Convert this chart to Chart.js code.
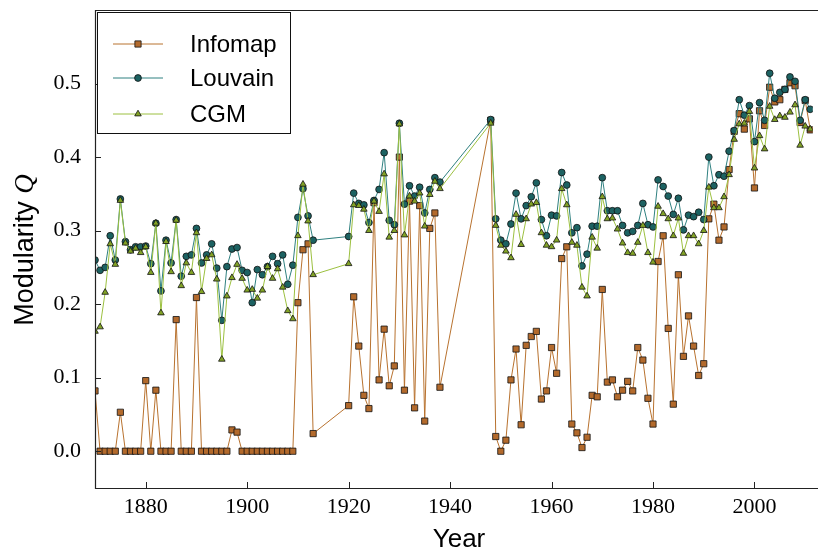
<!DOCTYPE html>
<html>
<head>
<meta charset="utf-8">
<script src="https://cdn.jsdelivr.net/npm/chart.js@4.4.1/dist/chart.umd.min.js"></script>
<style>
  html, body { margin: 0; padding: 0; background: #fff; }
  #wrap { width: 818px; height: 550px; }
</style>
</head>
<body>
<div id="wrap"><canvas id="modularidad" width="818" height="550"></canvas></div>
<script>
// Años (con huecos en las guerras)
const anios = [
  1870, 1871, 1872, 1873, 1874, 1875, 1876, 1877, 1878, 1879,
  1880, 1881, 1882, 1883, 1884, 1885, 1886, 1887, 1888, 1889,
  1890, 1891, 1892, 1893, 1894, 1895, 1896, 1897, 1898, 1899,
  1900, 1901, 1902, 1903, 1904, 1905, 1906, 1907, 1908, 1909,
  1910, 1911, 1912, 1913,
  1920, 1921, 1922, 1923, 1924, 1925, 1926, 1927, 1928, 1929,
  1930, 1931, 1932, 1933, 1934, 1935, 1936, 1937, 1938,
  1948, 1949, 1950, 1951, 1952, 1953, 1954, 1955, 1956, 1957, 1958, 1959,
  1960, 1961, 1962, 1963, 1964, 1965, 1966, 1967, 1968, 1969,
  1970, 1971, 1972, 1973, 1974, 1975, 1976, 1977, 1978, 1979,
  1980, 1981, 1982, 1983, 1984, 1985, 1986, 1987, 1988, 1989,
  1990, 1991, 1992, 1993, 1994, 1995, 1996, 1997, 1998, 1999,
  2000, 2001, 2002, 2003, 2004, 2005, 2006, 2007, 2008, 2009,
  2010, 2011
];

const infomap = [
  0.082, 0, 0, 0, 0, 0.053, 0, 0, 0, 0,
  0.096, 0, 0.083, 0, 0, 0, 0.179, 0, 0, 0,
  0.209, 0, 0, 0, 0, 0, 0, 0.029, 0.026, 0,
  0, 0, 0, 0, 0, 0, 0, 0, 0, 0,
  0.202, 0.274, 0.282, 0.024,
  0.062, 0.210, 0.143, 0.076, 0.058, 0.338, 0.097, 0.166, 0.089, 0.116,
  0.400, 0.083, 0.340, 0.059, 0.334, 0.041, 0.303, 0.324, 0.087,
  0.450, 0.020, 0.000, 0.015, 0.097, 0.139, 0.036, 0.144, 0.156, 0.163, 0.071, 0.082,
  0.141, 0.106, 0.262, 0.278, 0.037, 0.025, 0.005, 0.019, 0.076, 0.074,
  0.220, 0.094, 0.097, 0.074, 0.083, 0.095, 0.082, 0.141, 0.124, 0.072,
  0.037, 0.258, 0.293, 0.167, 0.064, 0.240, 0.129, 0.184, 0.143, 0.103,
  0.119, 0.316, 0.336, 0.287, 0.305, 0.383, 0.435, 0.459, 0.438, 0.452,
  0.358, 0.463, 0.443, 0.495, 0.475, 0.478, 0.492, 0.501, 0.497, 0.447,
  0.477, 0.437
];

const louvain = [
  0.260, 0.246, 0.250, 0.293, 0.260, 0.343, 0.285, 0.274, 0.278, 0.278,
  0.279, 0.255, 0.310, 0.218, 0.287, 0.256, 0.315, 0.238, 0.265, 0.267,
  0.303, 0.256, 0.267, 0.282, 0.249, 0.178, 0.251, 0.275, 0.277, 0.246,
  0.243, 0.202, 0.247, 0.240, 0.251, 0.265, 0.255, 0.267, 0.227, 0.253,
  0.318, 0.357, 0.320, 0.287,
  0.292, 0.351, 0.337, 0.335, 0.311, 0.341, 0.356, 0.406, 0.314, 0.308,
  0.446, 0.336, 0.361, 0.347, 0.359, 0.324, 0.356, 0.372, 0.366,
  0.451, 0.316, 0.287, 0.282, 0.309, 0.351, 0.316, 0.334, 0.346, 0.365, 0.315, 0.293,
  0.321, 0.320, 0.379, 0.362, 0.297, 0.304, 0.252, 0.268, 0.306, 0.306,
  0.372, 0.327, 0.327, 0.327, 0.307, 0.297, 0.299, 0.307, 0.337, 0.308,
  0.305, 0.369, 0.360, 0.347, 0.322, 0.344, 0.301, 0.321, 0.319, 0.325,
  0.315, 0.400, 0.361, 0.376, 0.374, 0.408, 0.436, 0.478, 0.457, 0.470,
  0.421, 0.474, 0.450, 0.514, 0.480, 0.488, 0.492, 0.509, 0.503, 0.450,
  0.478, 0.465
];

const cgm = [
  0.163, 0.169, 0.216, 0.282, 0.254, 0.341, 0.283, 0.272, 0.276, 0.270,
  0.278, 0.243, 0.310, 0.188, 0.285, 0.244, 0.314, 0.225, 0.256, 0.243,
  0.297, 0.217, 0.262, 0.267, 0.234, 0.125, 0.211, 0.236, 0.254, 0.235,
  0.219, 0.220, 0.208, 0.219, 0.251, 0.235, 0.248, 0.223, 0.191, 0.180,
  0.293, 0.363, 0.313, 0.240,
  0.255, 0.335, 0.334, 0.329, 0.300, 0.340, 0.326, 0.377, 0.291, 0.300,
  0.445, 0.294, 0.347, 0.340, 0.351, 0.306, 0.349, 0.367, 0.357,
  0.446, 0.307, 0.280, 0.272, 0.263, 0.322, 0.281, 0.316, 0.336, 0.338, 0.297, 0.280,
  0.278, 0.287, 0.357, 0.335, 0.284, 0.280, 0.223, 0.211, 0.291, 0.276,
  0.346, 0.316, 0.317, 0.302, 0.283, 0.270, 0.269, 0.284, 0.307, 0.270,
  0.257, 0.333, 0.323, 0.316, 0.293, 0.317, 0.269, 0.293, 0.293, 0.282,
  0.300, 0.359, 0.331, 0.331, 0.346, 0.376, 0.424, 0.445, 0.446, 0.462,
  0.385, 0.429, 0.411, 0.469, 0.451, 0.456, 0.454, 0.461, 0.471, 0.416,
  0.442, 0.438
];

const ticksAnio = [1880, 1900, 1920, 1940, 1960, 1980, 2000];
const ticksQ = [0.0, 0.1, 0.2, 0.3, 0.4, 0.5];

const series = [
  { label: 'Infomap', data: infomap, line: '#b8722f', fill: '#b36a2c', shape: 'rect', r: 4.4, order: 3 },
  { label: 'Louvain', data: louvain, line: '#2f8080', fill: '#1c6262', shape: 'circle', r: 3.4, order: 2 },
  { label: 'CGM', data: cgm, line: '#9cc040', fill: '#82a326', shape: 'triangle', r: 3.8, order: 1 }
];

const fuenteSerif = '"Liberation Serif", "Times New Roman", serif';
const fuenteSans = '"Liberation Sans", Arial, sans-serif';

// marco, marcas hacia dentro, titulos de ejes y leyenda
const extras = {
  id: 'extras',
  afterDatasetsDraw(chart) {
    const { ctx, chartArea: a, scales } = chart;
    ctx.save();
    ctx.strokeStyle = '#222';
    ctx.lineWidth = 1.2;
    ctx.beginPath();
    ctx.moveTo(818, a.top + 0.5);
    ctx.lineTo(a.left + 0.5, a.top + 0.5);
    ctx.lineTo(a.left + 0.5, a.bottom + 0.5);
    ctx.lineTo(818, a.bottom + 0.5);
    ctx.stroke();

    ctx.lineWidth = 1;
    ctx.beginPath();
    scales.x.ticks.forEach(t => {
      const px = Math.round(scales.x.getPixelForValue(t.value)) + 0.5;
      ctx.moveTo(px, a.bottom);
      ctx.lineTo(px, a.bottom - 6);
    });
    scales.y.ticks.forEach(t => {
      const py = Math.round(scales.y.getPixelForValue(t.value)) + 0.5;
      ctx.moveTo(a.left, py);
      ctx.lineTo(a.left + 6, py);
    });
    ctx.stroke();

    // titulos
    ctx.fillStyle = '#000';
    ctx.textBaseline = 'alphabetic';
    ctx.font = '26px ' + fuenteSans;
    ctx.textAlign = 'center';
    ctx.fillText('Year', 459, 547);

    ctx.save();
    ctx.translate(33, 250);
    ctx.rotate(-Math.PI / 2);
    ctx.textAlign = 'left';
    const t1 = 'Modularity ';
    ctx.font = '27px ' + fuenteSans;
    const w1 = ctx.measureText(t1).width;
    ctx.font = 'italic 27px ' + fuenteSerif;
    const w2 = ctx.measureText('Q').width;
    const x0 = -(w1 + w2) / 2;
    ctx.font = '27px ' + fuenteSans;
    ctx.fillText(t1, x0, 0);
    ctx.font = 'italic 27px ' + fuenteSerif;
    ctx.fillText('Q', x0 + w1, 0);
    ctx.restore();

    // leyenda
    ctx.fillStyle = '#fff';
    ctx.fillRect(97.5, 12.5, 193, 121);
    ctx.strokeStyle = '#111';
    ctx.lineWidth = 1;
    ctx.strokeRect(97.5, 12.5, 193, 121);
    const filas = [44, 78, 114];
    series.forEach((s, i) => {
      const yy = filas[i];
      ctx.strokeStyle = s.line;
      ctx.lineWidth = 1;
      ctx.beginPath();
      ctx.moveTo(113, yy);
      ctx.lineTo(163, yy);
      ctx.stroke();
      ctx.fillStyle = s.fill;
      ctx.strokeStyle = '#111';
      ctx.lineWidth = 0.8;
      ctx.beginPath();
      if (s.shape === 'rect') {
        const h = s.r * Math.SQRT1_2;
        ctx.rect(138 - h, yy - h, 2 * h, 2 * h);
      } else if (s.shape === 'circle') {
        ctx.arc(138, yy, s.r, 0, Math.PI * 2);
      } else {
        ctx.moveTo(138, yy - s.r);
        ctx.lineTo(138 + s.r * Math.sin(2 * Math.PI / 3), yy - s.r * Math.cos(2 * Math.PI / 3));
        ctx.lineTo(138 + s.r * Math.sin(4 * Math.PI / 3), yy - s.r * Math.cos(4 * Math.PI / 3));
        ctx.closePath();
      }
      ctx.fill();
      ctx.stroke();
      ctx.fillStyle = '#000';
      ctx.font = '24px ' + fuenteSans;
      ctx.textAlign = 'left';
      ctx.textBaseline = 'middle';
      ctx.fillText(s.label, 190, yy + 1);
    });
    ctx.restore();
  }
};

const ctx1 = document.getElementById('modularidad').getContext('2d');
const modularidadChart = new Chart(ctx1, {
  type: 'line',
  data: {
    datasets: series.map(s => ({
      label: s.label,
      data: anios.map((a, i) => ({ x: a, y: s.data[i] })),
      borderColor: s.line,
      borderWidth: 1,
      backgroundColor: s.fill,
      pointStyle: s.shape,
      pointRadius: s.r,
      pointBorderColor: '#111',
      pointBorderWidth: 0.8,
      pointBackgroundColor: s.fill,
      tension: 0,
      fill: false,
      clip: 0,
      order: s.order
    }))
  },
  options: {
    responsive: false,
    animation: false,
    devicePixelRatio: 1,
    layout: { padding: { top: 10, right: 0, bottom: 0, left: 0 } },
    plugins: { legend: { display: false }, tooltip: { enabled: false } },
    scales: {
      x: {
        type: 'linear',
        min: 1870,
        max: 2011.5,
        grid: { display: false, drawTicks: false },
        border: { display: false },
        afterBuildTicks: s => { s.ticks = ticksAnio.map(v => ({ value: v })); },
        afterFit: s => { s.height = 62; s.paddingLeft = 0; s.paddingRight = 0; },
        ticks: {
          padding: 6,
          color: '#000',
          maxRotation: 0,
          font: { family: fuenteSerif, size: 22 },
          callback: v => String(v)
        }
      },
      y: {
        min: -0.05,
        max: 0.6,
        grid: { display: false, drawTicks: false },
        border: { display: false },
        afterBuildTicks: s => { s.ticks = ticksQ.map(v => ({ value: v })); },
        afterFit: s => { s.width = 95; s.paddingTop = 0; s.paddingBottom = 0; },
        ticks: {
          padding: 14,
          color: '#000',
          font: { family: fuenteSerif, size: 22 },
          callback: v => v.toFixed(1)
        }
      }
    }
  },
  plugins: [extras]
});
</script>
</body>
</html>
